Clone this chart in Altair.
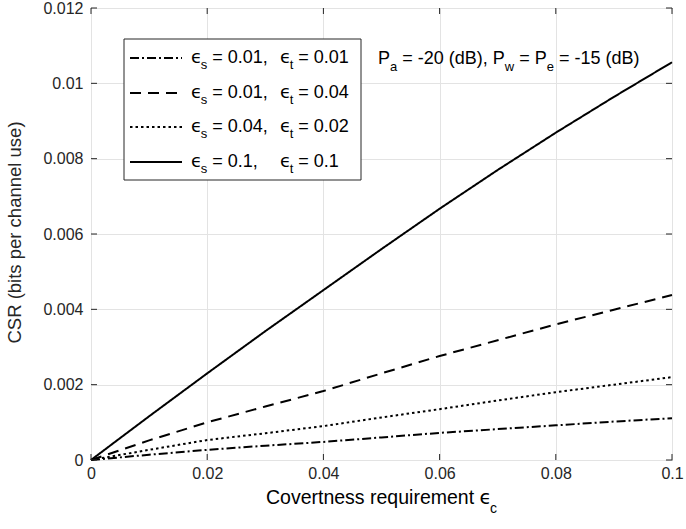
import altair as alt
import pandas as pd

# ---------------- data ----------------
x_vals = [0.0, 0.01, 0.02, 0.03, 0.04, 0.05, 0.06, 0.07, 0.08, 0.09, 0.1]
csr_s001_t001 = [0, 0.00014, 0.00027, 0.00038, 0.00048, 0.00060, 0.00072, 0.00082, 0.00092, 0.00102, 0.00111]
csr_s001_t004 = [0, 0.00052, 0.00100, 0.00142, 0.00183, 0.00230, 0.00276, 0.00318, 0.00360, 0.00399, 0.00438]
csr_s004_t002 = [0, 0.00027, 0.00053, 0.00071, 0.00090, 0.00113, 0.00135, 0.00158, 0.00180, 0.00200, 0.00220]
csr_s01_t01 = [0, 0.00116, 0.00230, 0.00342, 0.00451, 0.00560, 0.00667, 0.00770, 0.00869, 0.00964, 0.01056]

series_keys = ["s0.01_t0.01", "s0.01_t0.04", "s0.04_t0.02", "s0.1_t0.1"]
legend_eps_s = ["0.01", "0.01", "0.04", "0.1"]
legend_eps_t = ["0.01", "0.04", "0.02", "0.1"]
x_ticks = [0, 0.02, 0.04, 0.06, 0.08, 0.1]
y_ticks = [0, 0.002, 0.004, 0.006, 0.008, 0.01, 0.012]
y_title = "CSR (bits per channel use)"
x_title_main = "Covertness requirement "
x_title_sub = "c"

# ---------------- layout / style ----------------
W, H = 581, 452
DASHES = [[9, 3, 2, 3], [11, 7], [2.5, 3], [1, 0]]
FONT = "Liberation Sans"
EPS_FONT = "DejaVu Sans"
INK = "#262626"

rows = []
for key, vals in zip(series_keys, [csr_s001_t001, csr_s001_t004, csr_s004_t002, csr_s01_t01]):
    for xv, yv in zip(x_vals, vals):
        rows.append({"x": xv, "y": yv, "series": key})
df = pd.DataFrame(rows)

xscale = alt.Scale(domain=[0, 0.1], nice=False, zero=False)
yscale = alt.Scale(domain=[0, 0.012], nice=False, zero=False)

xaxis = alt.Axis(values=x_ticks, format="~g", grid=True, ticks=False, domain=False,
                 labelPadding=5, labelFontSize=16, labelFont=FONT, labelColor=INK,
                 gridColor="#e3e3e3", gridWidth=1, labelFlush=False, labelOverlap=False)
yaxis = alt.Axis(values=y_ticks, format="~g", grid=True, ticks=False, domain=False,
                 labelPadding=8, labelFontSize=16, labelFont=FONT, labelColor=INK,
                 gridColor="#e3e3e3", gridWidth=1, labelOverlap=False,
                 titleFontSize=18.5, titleFont=FONT, titleFontWeight="normal", titleColor=INK,
                 titleX=-77, titleY=224, titleAngle=270, titleAlign="center", titleBaseline="middle")

lines = alt.Chart(df).mark_line(color="black", strokeWidth=2).encode(
    x=alt.X("x:Q", scale=xscale, axis=xaxis, title=None),
    y=alt.Y("y:Q", scale=yscale, axis=yaxis, title=y_title),
    strokeDash=alt.StrokeDash("series:N", scale=alt.Scale(domain=series_keys, range=DASHES), legend=None),
    order="x:Q",
)

layers = [lines]

# inward tick marks on all four sides
xt = alt.Chart(pd.DataFrame({"x": x_ticks}))
yt = alt.Chart(pd.DataFrame({"y": y_ticks}))
for y1, y2 in [(H, H - 6), (0, 6)]:
    layers.append(xt.mark_rule(color=INK, strokeWidth=1).encode(
        x=alt.X("x:Q", scale=xscale, title=None), y=alt.value(y1), y2=alt.value(y2)))
for x1, x2 in [(0, 6), (W, W - 6)]:
    layers.append(yt.mark_rule(color=INK, strokeWidth=1).encode(
        y=alt.Y("y:Q", scale=yscale, title=y_title), x=alt.value(x1), x2=alt.value(x2)))

one = pd.DataFrame({"k": [0]})

# Arial / Liberation Sans advance widths (per 1000 em)
ADV = {" ": 278, "(": 333, ")": 333, ",": 278, "-": 333, ".": 278, "=": 584, "B": 667, "P": 667,
       "C": 722, "a": 556, "c": 500, "d": 556, "e": 556, "i": 222, "m": 833, "n": 556, "o": 556,
       "q": 556, "r": 333, "s": 500, "t": 278, "u": 556, "v": 500, "w": 722, "ϵ": 540}


def tw(s, size):
    return sum(ADV.get(ch, 556) for ch in s) / 1000.0 * size


def put(s, x, y, size, font=FONT):
    lead = len(s) - len(s.lstrip(" "))
    x0 = x + tw(" " * lead, size)
    layers.append(alt.Chart(one).mark_text(
        align="left", baseline="alphabetic", font=font, fontSize=size, color="black"
    ).encode(x=alt.value(x0), y=alt.value(y), text=alt.value(s.strip())))


def run(pieces, x, yb, size, sub_size, sub_drop):
    for kind, s in pieces:
        if kind == "m":
            put(s, x, yb, size)
            x += tw(s, size)
        elif kind == "e":
            put(s, x, yb, size, EPS_FONT)
            x += tw(s, size)
        else:
            put(s, x, yb + sub_drop, sub_size)
            x += tw(s, sub_size)
    return x


# legend box
layers.append(alt.Chart(one).mark_rect(fill="white", stroke=INK, strokeWidth=1).encode(
    x=alt.value(33), x2=alt.value(270), y=alt.value(31), y2=alt.value(172)))

row_y = [50, 85, 119, 154]
for i in range(4):
    ry = row_y[i]
    layers.append(alt.Chart(one).mark_rule(color="black", strokeWidth=2, strokeDash=DASHES[i]).encode(
        x=alt.value(39), x2=alt.value(91), y=alt.value(ry)))
    run([("e", "ϵ"), ("s", "s"), ("m", " = " + legend_eps_s[i] + ",")], 100, ry + 5, 18, 13, 6)
    run([("e", "ϵ"), ("s", "t"), ("m", " = " + legend_eps_t[i])], 189, ry + 5, 18, 13, 6)

# annotation
run([("m", "P"), ("s", "a"), ("m", " = -20 (dB), P"), ("s", "w"), ("m", " = P"), ("s", "e"),
     ("m", " = -15 (dB)")], 287, 56, 18, 13, 7)

# x-axis title
tsize, tsub = 19.5, 14
total = tw(x_title_main, tsize) + tw("ϵ", tsize) + tw(x_title_sub, tsub)
run([("m", x_title_main), ("e", "ϵ"), ("s", x_title_sub)], W / 2 - total / 2, 496, tsize, tsub, 9)

chart = alt.layer(*layers).properties(
    width=W, height=H,
    padding={"left": 91, "top": 8, "right": 14, "bottom": 69},
    autosize=alt.AutoSizeParams(type="none"),
    background="white",
).configure_view(stroke=INK, strokeWidth=1)

chart.save("out.html", embed_options={"renderer": "svg", "actions": False})
